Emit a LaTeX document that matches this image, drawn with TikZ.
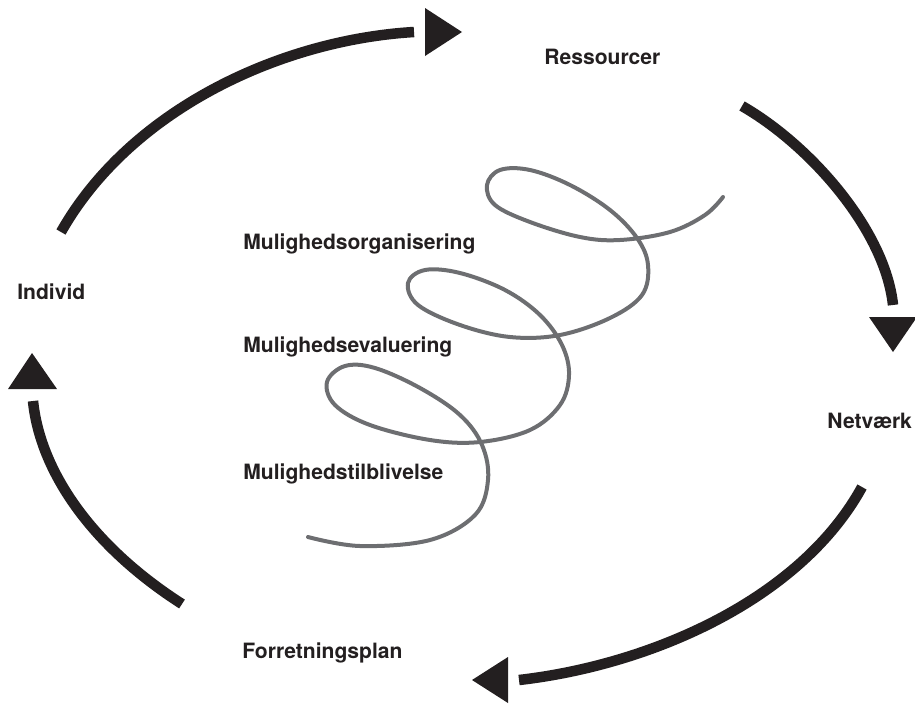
\documentclass[tikz,border=0pt]{standalone}
\usepackage{fontspec}
\setsansfont{TeX Gyre Heros}
\usetikzlibrary{positioning}
\definecolor{cArc}{RGB}{35,31,32}
\definecolor{cSpiral}{RGB}{109,110,113}
\tikzset{
	lbl/.style   ={anchor=base west, inner sep=0pt, text=cArc, font=\sffamily\bfseries\fontsize{12}{14}\selectfont},
	cycarc/.style={draw=cArc, line width=0.21cm},
	tiphead/.style={fill=cArc},
	% the grey spiral in the middle
	spiral/.style={draw=cSpiral, line width=0.08cm, line cap=round, line join=round},
}
\begin{document}
\begin{tikzpicture}[x=0.02cm, y=-0.02cm]
	\useasboundingbox (0,0) rectangle (915,703);
	% outer labels
	\node[lbl] (res)  at (544,64)  {Ressourcer};
	\node[lbl] (net)  at (827,428) {Netværk};
	\node[lbl] (plan) at (242,658) {Forretningsplan};
	\node[lbl] (ind)  at (17,299)  {Individ};
	% inner labels
	\node[lbl] (org)  at (243,249) {Mulighedsorganisering};
	\node[lbl] (eval) at (243,352) {Mulighedsevaluering};
	\node[lbl] (tilb) at (243,479) {Mulighedstilblivelse};
	% arc end points
	\coordinate (a1s) at (61,232);  \coordinate (a1e) at (414,32);
	\coordinate (a2s) at (742,106); \coordinate (a2e) at (893,305);
	\coordinate (a3s) at (862,487); \coordinate (a3e) at (519,680);
	\coordinate (a4s) at (182,604); \coordinate (a4e) at (33,401);
	% the cycle
	\draw[cycarc] (a1s) .. controls (130,110) and (280,40) .. (a1e);
	\fill[tiphead] (425,8) -- (425,56) -- (462,32) -- cycle;
	\draw[cycarc] (a2s) .. controls (810,145) and (885,230) .. (a2e);
	\fill[tiphead] (869,317) -- (917,317) -- (893,352) -- cycle;
	\draw[cycarc] (a3s) .. controls (800,600) and (650,665) .. (a3e);
	\fill[tiphead] (508,657) -- (508,703) -- (472,680) -- cycle;
	\draw[cycarc] (a4s) .. controls (90,545) and (40,470) .. (a4e);
	\fill[tiphead] (8,389) -- (57,389) -- (32,353) -- cycle;
	% spiral
	\draw[spiral] plot[smooth, tension=0.6] coordinates {
		(308,537) (360,546) (430,540) (475,515) (488,480) (482,445) (460,415)
		(420,388) (375,368) (345,366) (327,382) (335,405) (370,425) (430,440)
		(480,442) (530,430) (560,405) (569,375) (562,345) (540,315) (505,290)
		(460,273) (425,270) (408,283) (418,305) (460,325) (510,337) (560,335)
		(610,318) (642,295) (648,265) (637,238) (610,210) (570,185) (530,170)
		(500,170) (487,185) (495,205) (530,222) (580,237) (620,240) (670,232)
		(705,215) (723,197)};
\end{tikzpicture}
\end{document}
